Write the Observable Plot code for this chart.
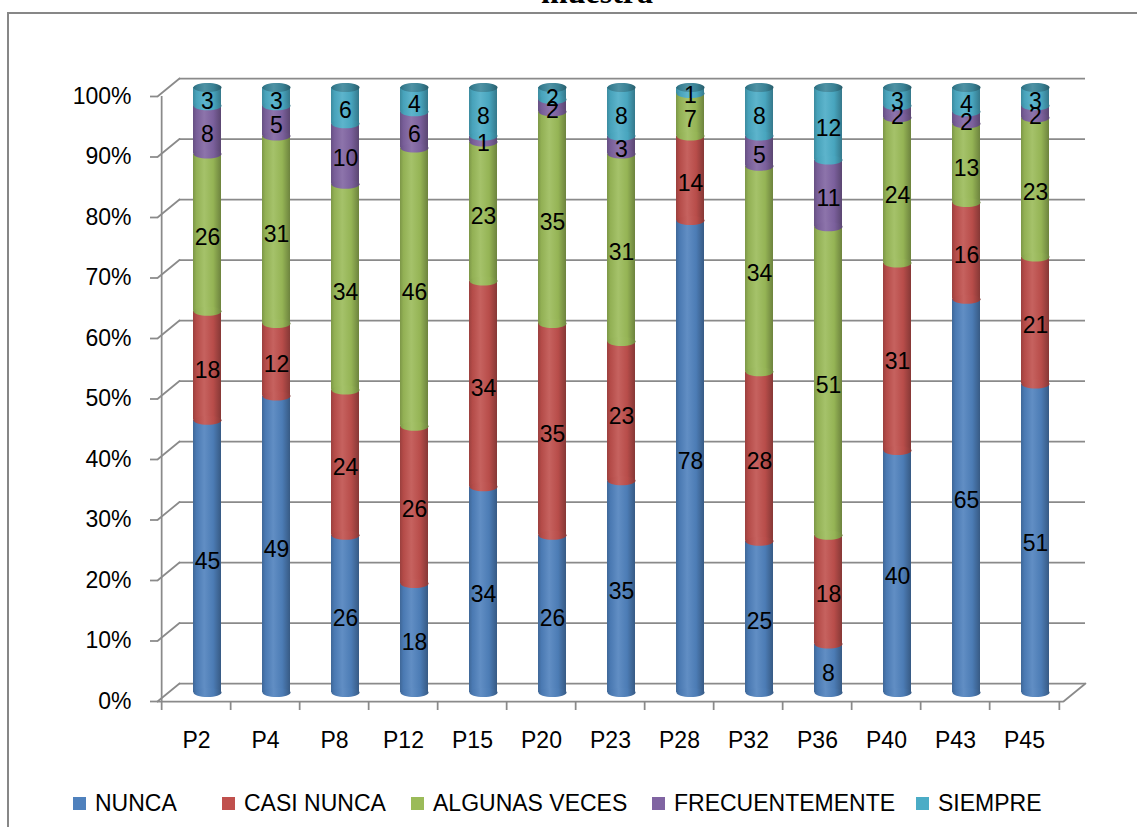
<!DOCTYPE html>
<html lang="es">
<head>
<meta charset="utf-8">
<title>muestra</title>
<script src="https://cdn.jsdelivr.net/npm/d3@7"></script>
<script src="https://cdn.jsdelivr.net/npm/@observablehq/plot@0.6"></script>
<style>
  html, body { margin: 0; padding: 0; background: #fff; }
  body { position: relative; width: 1137px; height: 827px; overflow: hidden; font-family: "Liberation Sans", Arial, sans-serif; }
  #frame { position: absolute; left: 7px; top: 12px; width: 1200px; height: 900px; border-left: 2px solid #878787; border-top: 2px solid #878787; }
  #title { position: absolute; left: 297px; width: 600px; top: -24px; text-align: center; font: bold 32px/32px "Liberation Serif", "DejaVu Serif", serif; color: #000; }
  #chart { position: absolute; left: 0; top: 0; }
  #legend { position: absolute; left: 0; top: 790px; width: 1137px; height: 26px; }
  .item { position: absolute; top: 0; height: 26px; display: flex; align-items: center; font-size: 23px; white-space: nowrap; color: #000; }
  .swatch { width: 13px; height: 13px; margin-right: 9px; flex: none; }
</style>
</head>
<body>
<div id="frame"></div>
<div id="title">muestra</div>
<div id="chart"></div>
<div id="legend"></div>
<script>
// Questions and answer categories
const categories = ["P2", "P4", "P8", "P12", "P15", "P20", "P23", "P28", "P32", "P36", "P40", "P43", "P45"];
const series = ["NUNCA", "CASI NUNCA", "ALGUNAS VECES", "FRECUENTEMENTE", "SIEMPRE"];

// Percentage of answers per question, one array per answer category
const nunca          = [45, 49, 26, 18, 34, 26, 35, 78, 25,  8, 40, 65, 51];
const casiNunca      = [18, 12, 24, 26, 34, 35, 23, 14, 28, 18, 31, 16, 21];
const algunasVeces   = [26, 31, 34, 46, 23, 35, 31,  7, 34, 51, 24, 13, 23];
const frecuentemente = [ 8,  5, 10,  6,  1,  2,  3,  0,  5, 11,  2,  2,  2];
const siempre        = [ 3,  3,  6,  4,  8,  2,  8,  1,  8, 12,  3,  4,  3];

const seriesColors = ["#4F81BD", "#C0504D", "#9BBB59", "#8064A2", "#4BACC6"];
const yTicks = [0, 0.1, 0.2, 0.3, 0.4, 0.5, 0.6, 0.7, 0.8, 0.9, 1];

const seriesValues = [nunca, casiNunca, algunasVeces, frecuentemente, siempre];
const rows = series.flatMap((s, si) =>
  categories.map((c, ci) => ({category: c, series: s, value: seriesValues[si][ci]}))
);

// Layout
const width = 1137, height = 770;
const frameLeft = 157, frameRight = 1063, frameTop = 96, frameBottom = 701;
const step = (frameRight - frameLeft) / categories.length;
const barWidth = 28;
const padInner = 1 - barWidth / step;
const depth = [22, -18];          // offset of the back wall from the front plane
const mid = [depth[0] / 2, depth[1] / 2]; // columns stand halfway in depth
const capRy = 4.5;
const gridColor = "#8a8a8a";
const gridWidth = 1.75;
const fontSize = 23;
const diagLength = Math.hypot(depth[0], depth[1]);
const diagAngle = Math.atan2(depth[0], -depth[1]) * 180 / Math.PI;

// Flat ellipse used for the cylinder caps and the curved segment bottoms
const ellipse = {
  draw(ctx) {
    const a = barWidth / 2, b = capRy, k = 0.5523;
    ctx.moveTo(a, 0);
    ctx.bezierCurveTo(a, b * k, a * k, b, 0, b);
    ctx.bezierCurveTo(-a * k, b, -a, b * k, -a, 0);
    ctx.bezierCurveTo(-a, -b * k, -a * k, -b, 0, -b);
    ctx.bezierCurveTo(a * k, -b, a, -b * k, a, 0);
    ctx.closePath();
  }
};
// Plain straight segment for the side-wall edges
const segment = {draw(ctx, l) { ctx.moveTo(0, 0); ctx.lineTo(0, -l); }};

const stack = {x: "category", y: "value", z: "series", offset: "normalize"};
const gridStyle = {stroke: gridColor, strokeWidth: gridWidth};

const chart = Plot.plot({
  width, height,
  marginLeft: frameLeft,
  marginRight: width - frameRight,
  marginTop: frameTop,
  marginBottom: height - frameBottom,
  style: {fontFamily: "'Liberation Sans', Arial, sans-serif", fontSize: "23px", color: "#000", background: "transparent", overflow: "visible"},
  x: {domain: categories, paddingInner: padInner, paddingOuter: padInner / 2},
  y: {domain: [0, 1]},
  color: {domain: series, range: series.map((_, i) => `url(#cyl-${i})`)},
  marks: [
    // back wall gridlines
    Plot.ruleY(yTicks, {y: d => d, dx: depth[0], dy: depth[1], ...gridStyle}),
    // side wall edges and floor edge
    Plot.vector(yTicks, {y: d => d, frameAnchor: "left", anchor: "start", length: diagLength, rotate: diagAngle, shape: segment, ...gridStyle}),
    Plot.vector([0], {y: d => d, frameAnchor: "right", anchor: "start", length: diagLength, rotate: diagAngle, shape: segment, ...gridStyle}),
    Plot.ruleY([0], {y: d => d, ...gridStyle}),
    Plot.ruleX([categories[0]], {x: d => d, y1: 0, y2: 1, dx: -step / 2, ...gridStyle}),
    // axes
    Plot.axisY(yTicks, {tickFormat: d3.format(".0%"), tickSize: 7, tickPadding: 19, fontSize, label: null, ...gridStyle}),
    Plot.axisX({tickSize: 9, fill: "none", dx: -step / 2, label: null, ...gridStyle}),
    Plot.axisX([categories[categories.length - 1]], {tickSize: 9, fill: "none", dx: step / 2, label: null, ...gridStyle}),
    Plot.axisX({tickSize: 0, tickPadding: 30, fontSize, label: null}),
    // stacked cylinders
    Plot.barY(rows, Plot.stackY({...stack, fill: "series", dx: mid[0], dy: mid[1]})),
    Plot.dot(rows, Plot.filter(d => d.value > 0, Plot.stackY1({...stack, fill: "series", symbol: ellipse, r: barWidth / 2, dx: mid[0], dy: mid[1]}))),
    Plot.dot(rows, Plot.filter(d => d.series === series[series.length - 1], Plot.stackY2({...stack, fill: "url(#cyl-cap)", symbol: ellipse, r: barWidth / 2, dx: mid[0], dy: mid[1]}))),
    // value labels
    Plot.text(rows, Plot.filter(d => d.value > 0, Plot.stackY({...stack, text: d => String(d.value), dx: mid[0], dy: -4, fontSize, fill: "#000"})))
  ]
});

// Horizontal shading that gives the columns their cylindrical look
function shade(color, k) {
  return k < 0 ? d3.interpolateRgb(color, "#000")(-k) : d3.interpolateRgb(color, "#fff")(k);
}
const cylinderStops = [[0, -0.2], [0.12, -0.06], [0.4, 0.1], [0.72, -0.04], [1, -0.3]];
const defs = d3.select(chart).insert("defs", ":first-child");
function addGradient(id, color) {
  const g = defs.append("linearGradient").attr("id", id)
    .attr("x1", 0).attr("x2", 1).attr("y1", 0).attr("y2", 0);
  for (const [offset, k] of cylinderStops) {
    g.append("stop").attr("offset", offset).attr("stop-color", shade(color, k));
  }
}
seriesColors.forEach((c, i) => addGradient(`cyl-${i}`, c));
addGradient("cyl-cap", shade(seriesColors[seriesColors.length - 1], -0.22));

document.getElementById("chart").append(chart);

// Legend
const legendLeft = [73, 222, 411, 652, 916];
const legend = d3.select("#legend");
series.forEach((s, i) => {
  const item = legend.append("div").attr("class", "item").style("left", legendLeft[i] + "px");
  item.append("div").attr("class", "swatch").style("background", seriesColors[i]);
  item.append("span").text(s);
});
</script>
</body>
</html>
